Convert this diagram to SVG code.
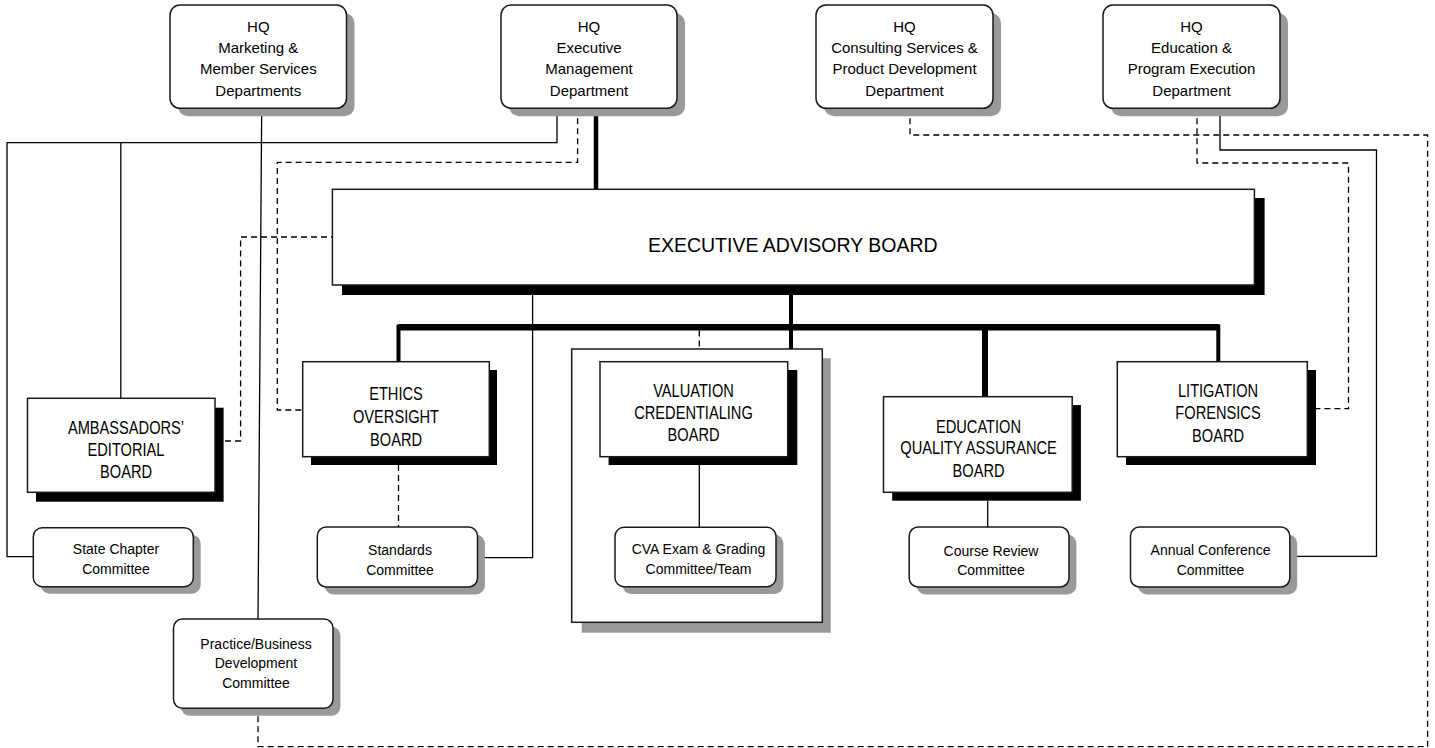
<svg xmlns="http://www.w3.org/2000/svg" width="1435" height="748" viewBox="0 0 1435 748">
<style>
.box{fill:#fff;stroke:#1a1a1a;stroke-width:1.5}
.shg{fill:#999}
.shb{fill:#000}
.ln{stroke:#000;stroke-width:1.3;fill:none}
.dl{stroke:#000;stroke-width:1.3;fill:none;stroke-dasharray:6 4}
.tk{stroke:#000;fill:none;stroke-width:4.5}
.bus{stroke:#000;fill:none;stroke-width:6.5}
text{font-family:"Liberation Sans",Arial,sans-serif;fill:#000;text-anchor:middle}
.t15{font-size:15px}
.t14{font-size:14px}
.teab{font-size:19.5px}
.tb{font-size:19px}
</style>
<rect width="1435" height="748" fill="#fff"/>

<g id="valuation-group">
  <rect class="shg" x="581.7" y="358.3" width="249" height="274.4"/>
  <rect class="box" x="571.7" y="349" width="250.6" height="273.3"/>
</g>

<g id="connectors">
  <path class="ln" d="M261.7 108.3 L258 619"/>
  <path class="ln" d="M557 108.3 V142.7 H7 V556.7 H33.3"/>
  <path class="ln" d="M120.8 142.7 V398.3"/>
  <path class="dl" d="M577.6 108.3 V162.3 H277.3 V410 H302.7"/>
  <path class="tk" d="M596 108.3 V189.3"/>
  <path class="dl" d="M910 108.3 V135 H1427.6 V746.7 H258 V708.3"/>
  <path class="dl" d="M1197 108.3 V163 H1348.5 V408.7 H1307.3"/>
  <path class="ln" d="M1220 108.3 V150 H1376.5 V556.3 H1289.8"/>
  <path class="tk" d="M791 285 V349" style="stroke-width:4"/>
  <path class="bus" d="M398.5 327.3 H1218.5"/>
  <path class="tk" d="M398.5 324.5 V361.7" style="stroke-width:4"/>
  <path class="tk" d="M1218.3 324.5 V361.7" style="stroke-width:4"/>
  <path class="tk" d="M985 330 V396.7" style="stroke-width:6"/>
  <path class="dl" d="M699.3 330.5 V349"/>
  <path class="ln" d="M699.3 465 V527.3"/>
  <path class="ln" d="M532.6 295 V557.7 H477.5"/>
  <path class="dl" d="M215 441 H240.6 V237 H332.4"/>
  <path class="dl" d="M398.5 465 V527"/>
  <path class="ln" d="M987.7 500.7 V527"/>
</g>

<g id="hq-marketing">
  <rect class="shg" x="178" y="13" width="176.5" height="103.3" rx="10"/>
  <rect class="box" x="170" y="5" width="176.5" height="103.3" rx="10"/>
  <text class="t15" x="258.3" y="31.7">HQ</text>
  <text class="t15" x="258.3" y="53">Marketing &amp;</text>
  <text class="t15" x="258.3" y="74.3">Member Services</text>
  <text class="t15" x="258.3" y="95.6">Departments</text>
</g>
<g id="hq-executive">
  <rect class="shg" x="509" y="13" width="176" height="103.3" rx="10"/>
  <rect class="box" x="501" y="5" width="176" height="103.3" rx="10"/>
  <text class="t15" x="589" y="31.7">HQ</text>
  <text class="t15" x="589" y="53">Executive</text>
  <text class="t15" x="589" y="74.3">Management</text>
  <text class="t15" x="589" y="95.6">Department</text>
</g>
<g id="hq-consulting">
  <rect class="shg" x="824" y="13" width="177" height="103.3" rx="10"/>
  <rect class="box" x="816" y="5" width="177" height="103.3" rx="10"/>
  <text class="t15" x="904.5" y="31.7">HQ</text>
  <text class="t15" x="904.5" y="53">Consulting Services &amp;</text>
  <text class="t15" x="904.5" y="74.3">Product Development</text>
  <text class="t15" x="904.5" y="95.6">Department</text>
</g>
<g id="hq-education">
  <rect class="shg" x="1111" y="13" width="177" height="103.3" rx="10"/>
  <rect class="box" x="1103" y="5" width="177" height="103.3" rx="10"/>
  <text class="t15" x="1191.5" y="31.7">HQ</text>
  <text class="t15" x="1191.5" y="53">Education &amp;</text>
  <text class="t15" x="1191.5" y="74.3">Program Execution</text>
  <text class="t15" x="1191.5" y="95.6">Department</text>
</g>

<g id="executive-advisory-board">
  <rect class="shb" x="342" y="198" width="922.6" height="97"/>
  <rect class="box" x="332.4" y="189.3" width="922" height="95.7"/>
  <text class="teab" x="792.8" y="251.7">EXECUTIVE ADVISORY BOARD</text>
</g>

<g id="ambassadors-editorial-board">
  <rect class="shb" x="36" y="407.7" width="187.6" height="94"/>
  <rect class="box" x="27.5" y="398.3" width="187.5" height="94"/>
  <g transform="translate(126 0) scale(0.77 1)">
    <text class="tb" x="0" y="434">AMBASSADORS’</text>
    <text class="tb" x="0" y="456">EDITORIAL</text>
    <text class="tb" x="0" y="478.3">BOARD</text>
  </g>
</g>
<g id="ethics-oversight-board">
  <rect class="shb" x="311" y="370" width="186" height="95"/>
  <rect class="box" x="302.7" y="361.7" width="186.6" height="95"/>
  <g transform="translate(396 0) scale(0.77 1)">
    <text class="tb" x="0" y="400">ETHICS</text>
    <text class="tb" x="0" y="423">OVERSIGHT</text>
    <text class="tb" x="0" y="446">BOARD</text>
  </g>
</g>
<g id="valuation-credentialing-board">
  <rect class="shb" x="608.6" y="370" width="188.7" height="95"/>
  <rect class="box" x="600" y="361.7" width="187.7" height="95"/>
  <g transform="translate(693.5 0) scale(0.77 1)">
    <text class="tb" x="0" y="397.3">VALUATION</text>
    <text class="tb" x="0" y="419.3">CREDENTIALING</text>
    <text class="tb" x="0" y="441">BOARD</text>
  </g>
</g>
<g id="education-quality-assurance-board">
  <rect class="shb" x="892.2" y="405.1" width="188.7" height="95.6"/>
  <rect class="box" x="883.5" y="396.7" width="188.7" height="95.6"/>
  <g transform="translate(978.5 0) scale(0.77 1)">
    <text class="tb" x="0" y="433.3">EDUCATION</text>
    <text class="tb" x="0" y="454.3">QUALITY ASSURANCE</text>
    <text class="tb" x="0" y="476.7">BOARD</text>
  </g>
</g>
<g id="litigation-forensics-board">
  <rect class="shb" x="1126" y="370" width="190" height="95"/>
  <rect class="box" x="1117.3" y="361.7" width="190" height="95"/>
  <g transform="translate(1218 0) scale(0.77 1)">
    <text class="tb" x="0" y="397.3">LITIGATION</text>
    <text class="tb" x="0" y="419.3">FORENSICS</text>
    <text class="tb" x="0" y="441.7">BOARD</text>
  </g>
</g>

<g id="state-chapter-committee">
  <rect class="shg" x="40.7" y="534.7" width="160" height="59" rx="9"/>
  <rect class="box" x="33.3" y="527.7" width="160" height="59" rx="9"/>
  <text class="t14" x="116" y="554.3">State Chapter</text>
  <text class="t14" x="116" y="574.3">Committee</text>
</g>
<g id="standards-committee">
  <rect class="shg" x="324.7" y="534.5" width="160.2" height="60" rx="9"/>
  <rect class="box" x="317.3" y="527" width="160.2" height="60" rx="9"/>
  <text class="t14" x="400" y="555">Standards</text>
  <text class="t14" x="400" y="575">Committee</text>
</g>
<g id="cva-exam-committee">
  <rect class="shg" x="622.4" y="534.5" width="161" height="59.4" rx="9"/>
  <rect class="box" x="615" y="527.3" width="161" height="59.4" rx="9"/>
  <text class="t14" x="698.5" y="554.3">CVA Exam &amp; Grading</text>
  <text class="t14" x="698.5" y="573.8">Committee/Team</text>
</g>
<g id="course-review-committee">
  <rect class="shg" x="916.6" y="534.5" width="159.8" height="60" rx="9"/>
  <rect class="box" x="909.2" y="527" width="159.8" height="60" rx="9"/>
  <text class="t14" x="991" y="555.5">Course Review</text>
  <text class="t14" x="991" y="575">Committee</text>
</g>
<g id="annual-conference-committee">
  <rect class="shg" x="1137.9" y="534.5" width="159.3" height="60" rx="9"/>
  <rect class="box" x="1130.5" y="527" width="159.3" height="60" rx="9"/>
  <text class="t14" x="1210.5" y="555">Annual Conference</text>
  <text class="t14" x="1210.5" y="575">Committee</text>
</g>
<g id="practice-business-committee">
  <rect class="shg" x="180.9" y="626.5" width="159.5" height="89.3" rx="9"/>
  <rect class="box" x="173.5" y="619" width="159.5" height="89.3" rx="9"/>
  <text class="t14" x="256" y="649">Practice/Business</text>
  <text class="t14" x="256" y="668">Development</text>
  <text class="t14" x="256" y="687.5">Committee</text>
</g>
</svg>
